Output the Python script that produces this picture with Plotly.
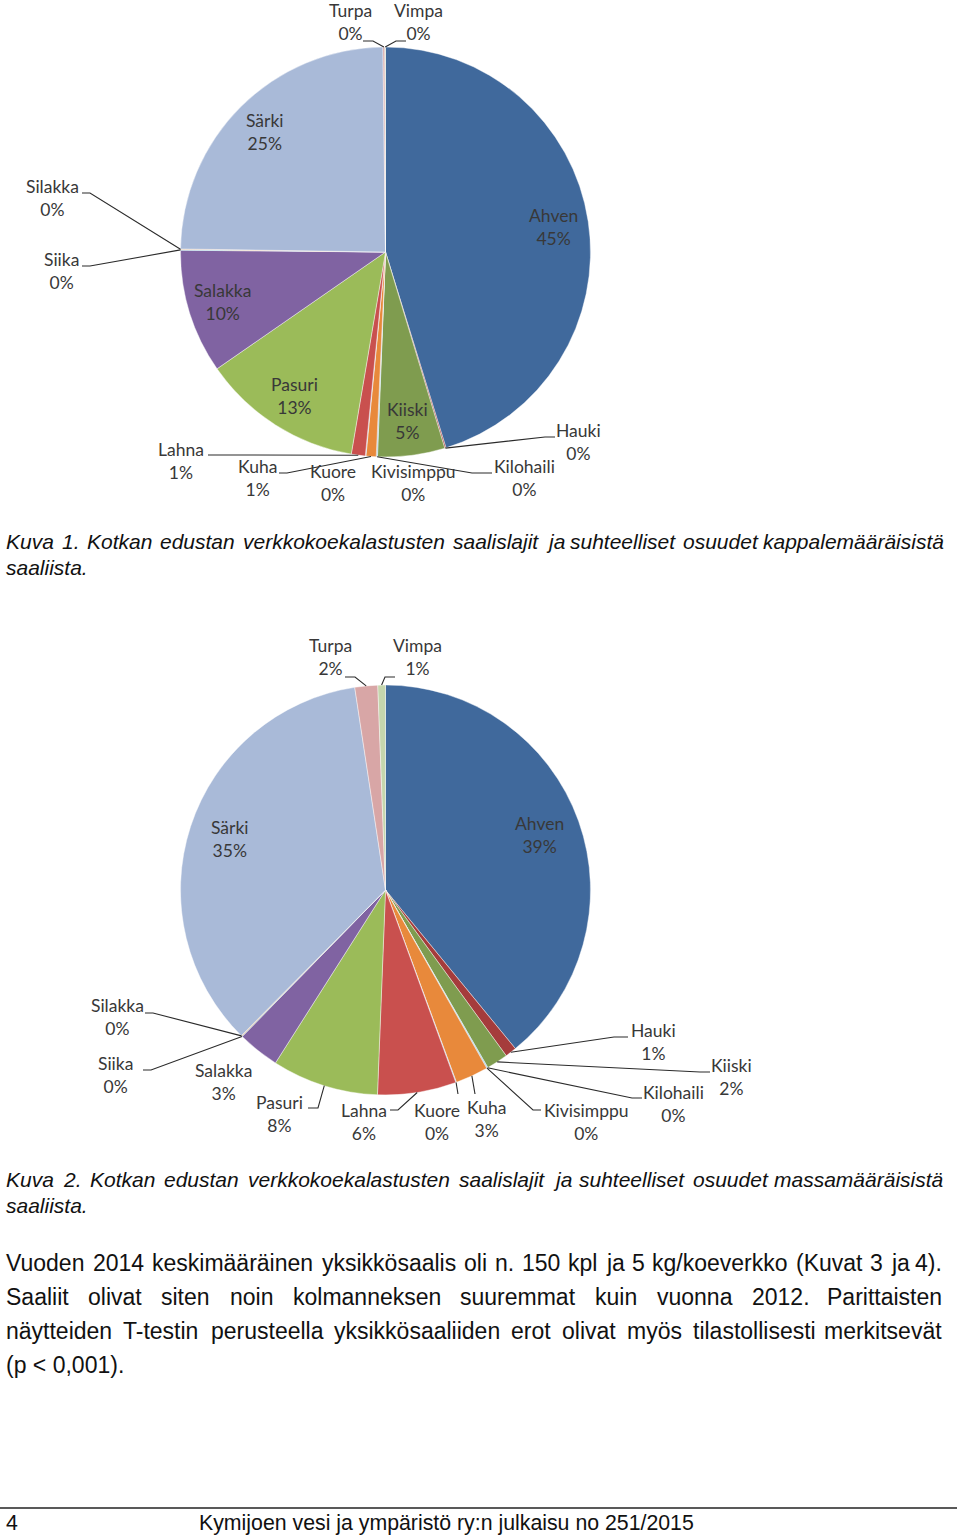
import math
import plotly.graph_objects as go

# ---------------- data ----------------
species = ["Ahven", "Hauki", "Kiiski", "Kilohaili", "Kivisimppu", "Kuha", "Kuore",
           "Lahna", "Pasuri", "Salakka", "Siika", "Silakka", "Särki", "Turpa", "Vimpa"]
# Kuva 1: share of catch by number (%)
share_count = [45.3, 0.1, 5.3, 0.05, 0.05, 0.8, 0.05, 1.1, 12.7, 9.8, 0.05, 0.05, 24.6, 0.15, 0.05]
# Kuva 2: share of catch by mass (%)
share_mass = [39.1, 0.9, 1.7, 0.05, 0.05, 2.6, 0.05, 6.2, 8.4, 3.3, 0.05, 0.05, 35.2, 1.8, 0.6]

colors = ["#40699c", "#a53c3c", "#7f9c4f", "#4bacc6", "#5b8fc7", "#e8893b", "#8cb3d9",
          "#c9504e", "#9bbb59", "#8063a2", "#4bacc6", "#f79646", "#a9bad8", "#d8a6a6", "#c5d6ad"]

caption1 = ["Kuva 1. Kotkan edustan verkkokoekalastusten saalislajit ja suhteelliset osuudet kappalemääräisistä",
            "saaliista."]
caption2 = ["Kuva 2. Kotkan edustan verkkokoekalastusten saalislajit ja suhteelliset osuudet massamääräisistä",
            "saaliista."]
body_lines = ["Vuoden 2014 keskimääräinen yksikkösaalis oli n. 150 kpl ja 5 kg/koeverkko (Kuvat 3 ja 4).",
              "Saaliit olivat siten noin kolmanneksen suuremmat kuin vuonna 2012. Parittaisten",
              "näytteiden T-testin perusteella yksikkösaaliiden erot olivat myös tilastollisesti merkitsevät",
              "(p < 0,001)."]
footer_page = "4"
footer_text = "Kymijoen vesi ja ympäristö ry:n julkaisu no 251/2015"

# ---------------- layout / style ----------------
W, H = 960, 1536
R = 205


def fx(px):
    return px / W


def fy(py):
    return 1 - py / H


pies = [
    dict(values=share_count, cx=385.5, cy=252, rin=0.83,
         inside=["Ahven", "Kiiski", "Pasuri", "Salakka", "Särki"],
         # name: (text cx, text cy, leader start x, y, horizontal stub)
         outside={"Turpa": (350, 22, 363, 41, 10), "Vimpa": (418, 22, 406, 41, -10),
                  "Silakka": (52, 198, 82, 193, 8), "Siika": (61, 271, 82, 266, 8),
                  "Lahna": (181, 461, 208, 455, 10), "Kuha": (257, 478, 279, 473, 8),
                  "Kuore": (333, 483, None, None, 0), "Kivisimppu": (413, 483, None, None, 0),
                  "Kilohaili": (524, 478, 492, 473, -20), "Hauki": (578, 442, 555, 437, -10)}),
    dict(values=share_mass, cx=385.5, cy=890, rin=0.8, inside=["Ahven", "Särki"],
         outside={"Turpa": (330, 657, 345, 677, 10), "Vimpa": (417, 657, 395, 677, -10),
                  "Silakka": (117, 1017, 145, 1013, 8), "Siika": (115, 1075, 143, 1070, 8),
                  "Salakka": (223, 1082, None, None, 0), "Pasuri": (279, 1114, 308, 1108, 10),
                  "Lahna": (364, 1122, 390, 1110, 8), "Kuore": (437, 1122, 458, 1094, 0),
                  "Kuha": (486, 1119, 475, 1094, 0), "Kivisimppu": (586, 1122, 541, 1110, -8),
                  "Kilohaili": (673, 1104, 642, 1098, -10), "Kiiski": (731, 1077, 710, 1072, -10),
                  "Hauki": (653, 1042, 628, 1037, -14)}),
]

label_font = dict(family="Lato, Open Sans, sans-serif", size=17.5, color="#383838")
page_font = "Liberation Sans, Arial, sans-serif"

# Arial / Liberation Sans advance widths (1/1000 em) used to justify text lines
ADV = {" ": 278, "(": 333, ")": 333, ".": 278, ",": 278, "-": 333, "/": 278, "<": 584, ":": 278,
       "a": 556, "b": 556, "c": 500, "d": 556, "e": 556, "f": 278, "g": 556, "h": 556, "i": 222,
       "j": 222, "k": 500, "l": 222, "m": 833, "n": 556, "o": 556, "p": 556, "q": 556, "r": 333,
       "s": 500, "t": 278, "u": 556, "v": 500, "w": 722, "x": 500, "y": 500, "z": 500,
       "ä": 556, "ö": 556, "K": 667, "P": 667, "S": 667, "T": 611, "V": 667}


def word_width(w, size):
    return sum(ADV.get(ch, 556) for ch in w) / 1000 * size


fig = go.Figure()
annotations = []
shapes = []

for p in pies:
    vals = p["values"]
    total = sum(vals)
    fig.add_trace(go.Pie(
        labels=species, values=vals, sort=False, direction="clockwise", rotation=0,
        marker=dict(colors=colors, line=dict(color="rgba(255,255,255,0.6)", width=0.7)),
        textinfo="none", hoverinfo="label+percent", showlegend=False,
        domain=dict(x=[fx(p["cx"] - R), fx(p["cx"] + R)],
                    y=[fy(p["cy"] + R), fy(p["cy"] - R)]),
    ))
    cum = 0.0
    for name, v in zip(species, vals):
        mid = (cum + v / 2) / total * 360.0
        cum += v
        pct = round(v / total * 100)
        txt = f"{name}<br>{pct}%"
        s, c = math.sin(math.radians(mid)), math.cos(math.radians(mid))
        if name in p["inside"]:
            r = p["rin"] * R
            annotations.append(dict(x=p["cx"] + r * s, y=p["cy"] - r * c, xref="x", yref="y",
                                    text=txt, showarrow=False, font=label_font, align="center",
                                    xanchor="center", yanchor="middle"))
        elif name in p["outside"]:
            tx, ty, sx, sy, stub = p["outside"][name]
            annotations.append(dict(x=tx, y=ty, xref="x", yref="y", text=txt, showarrow=False,
                                    font=label_font, align="center", xanchor="center", yanchor="middle"))
            if sx is not None:
                ex, ey = p["cx"] + R * s, p["cy"] - R * c
                shapes.append(dict(type="path", xref="x", yref="y",
                                   path=f"M {sx},{sy} L {sx + stub},{sy} L {ex:.1f},{ey:.1f}",
                                   line=dict(color="#2b2b2b", width=1.1)))


def add_line(text, y, font, x0, x1=None, italic=False):
    """Place a text line; if x1 is given the words are justified between x0 and x1."""
    wrap = (lambda t: f"<i>{t}</i>") if italic else (lambda t: t)
    if x1 is None:
        annotations.append(dict(x=x0, y=y, xref="x", yref="y", text=wrap(text), showarrow=False,
                                font=font, xanchor="left", yanchor="middle", borderpad=0))
        return
    words = text.split(" ")
    widths = [word_width(w, font["size"]) for w in words]
    gap = (x1 - x0 - sum(widths)) / (len(words) - 1)
    x = x0
    for j, (w, wd) in enumerate(zip(words, widths)):
        last = j == len(words) - 1
        annotations.append(dict(x=x1 if last else x, y=y, xref="x", yref="y", text=wrap(w),
                                showarrow=False, font=font, xanchor="right" if last else "left",
                                yanchor="middle", borderpad=0))
        x += wd + gap


# captions
cap_font = dict(family=page_font, size=21, color="#111111")
for lines, y0 in ((caption1, 541), (caption2, 1179)):
    add_line(lines[0], y0, cap_font, 5, 945, italic=True)
    add_line(lines[1], y0 + 26, cap_font, 5, italic=True)

# body paragraph
body_font = dict(family=page_font, size=23, color="#111111")
for i, ln in enumerate(body_lines):
    y = 1263 + 34 * i
    if i < len(body_lines) - 1:
        add_line(ln, y, body_font, 5, 943)
    else:
        add_line(ln, y, body_font, 5)

# footer
shapes.append(dict(type="line", xref="x", yref="y", x0=0, x1=957, y0=1508, y1=1508,
                   line=dict(color="#222222", width=1.5)))
foot_font = dict(family="Liberation Sans Narrow, Liberation Sans, Arial, sans-serif", size=21.3, color="#111111")
add_line(footer_page, 1523, foot_font, 5)
add_line(footer_text, 1523, foot_font, 198)

fig.update_layout(
    width=W, height=H, margin=dict(l=0, r=0, t=0, b=0),
    paper_bgcolor="white", plot_bgcolor="white",
    xaxis=dict(range=[0, W], visible=False, fixedrange=True),
    yaxis=dict(range=[H, 0], visible=False, fixedrange=True),
    annotations=annotations, shapes=shapes, showlegend=False,
)
fig.write_html("out.html", config={"displayModeBar": False},
               post_script="document.body.style.margin='0';")
